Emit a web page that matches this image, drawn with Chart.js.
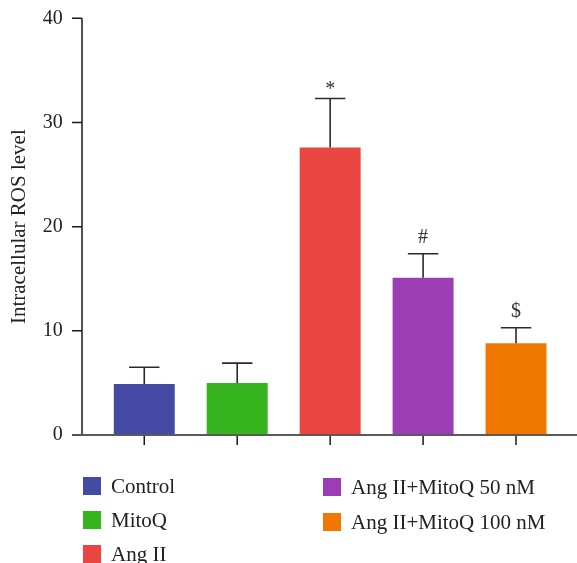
<!DOCTYPE html>
<html>
<head>
<meta charset="utf-8">
<script src="https://cdn.jsdelivr.net/npm/chart.js@4.4.0/dist/chart.umd.min.js"></script>
<style>
  body { margin: 0; background: #fff; }
  #wrap { position: relative; width: 577px; height: 563px; }
  #legend { position: absolute; left: 0; top: 0; width: 577px; height: 563px; pointer-events: none;
    font-family: "Liberation Serif", "DejaVu Serif", serif; font-size: 21px; color: #222; }
  .item { position: absolute; display: flex; align-items: center; height: 18px; white-space: nowrap; }
  .box { width: 18px; height: 18px; margin-right: 10px; }
</style>
</head>
<body>
<div id="wrap">
  <canvas id="chart" width="577" height="563"></canvas>
  <div id="legend"></div>
</div>
<script>
const groups = ['Control', 'MitoQ', 'Ang II', 'Ang II+MitoQ 50 nM', 'Ang II+MitoQ 100 nM'];
const rosLevel = [4.9, 5.0, 27.6, 15.1, 8.8];
const rosError = [1.6, 1.9, 4.7, 2.3, 1.5];
const signs = ['', '', '*', '#', '$'];
const yTicks = [0, 10, 20, 30, 40];
const colors = ['#454ba5', '#35b41e', '#e94641', '#9b3db5', '#f07800'];

const serif = '"Liberation Serif", "DejaVu Serif", serif';

// hier tekent die de assen, de foutbalken en de tekens erboven
const extras = {
  id: 'extras',
  afterDatasetsDraw(chart) {
    const ctx = chart.ctx;
    const y = chart.scales.y;
    const x = chart.scales.x;
    const meta = chart.getDatasetMeta(0);
    const axisX = 82;

    ctx.save();
    // foutbalken
    ctx.strokeStyle = '#2a2a2a';
    ctx.lineWidth = 1.6;
    meta.data.forEach((bar, i) => {
      const top = y.getPixelForValue(rosLevel[i] + rosError[i]);
      const half = bar.width / 4;
      ctx.beginPath();
      ctx.moveTo(bar.x, bar.y);
      ctx.lineTo(bar.x, top);
      ctx.moveTo(bar.x - half, top);
      ctx.lineTo(bar.x + half, top);
      ctx.stroke();
      if (signs[i]) {
        ctx.fillStyle = '#333';
        ctx.font = '20px ' + serif;
        ctx.textAlign = 'center';
        ctx.textBaseline = 'alphabetic';
        ctx.fillText(signs[i], bar.x, top - (signs[i] === '*' ? 4 : 11));
      }
    });

    // y-as met streepjes
    ctx.strokeStyle = '#1a1a1a';
    ctx.lineWidth = 1.5;
    ctx.beginPath();
    ctx.moveTo(axisX, y.getPixelForValue(40));
    ctx.lineTo(axisX, y.getPixelForValue(0));
    yTicks.forEach(t => {
      const py = y.getPixelForValue(t);
      ctx.moveTo(axisX - 10, py);
      ctx.lineTo(axisX, py);
    });
    ctx.stroke();

    // x-as met streepjes
    const base = y.getPixelForValue(0);
    ctx.beginPath();
    groups.forEach((g, i) => {
      const px = x.getPixelForValue(i);
      ctx.moveTo(px, base);
      ctx.lineTo(px, base + 10);
    });
    ctx.stroke();
    ctx.strokeStyle = '#5a5a5a';
    ctx.lineWidth = 2;
    ctx.beginPath();
    ctx.moveTo(axisX - 1, base);
    ctx.lineTo(577, base);
    ctx.stroke();
    ctx.restore();
  }
};

new Chart(document.getElementById('chart'), {
  type: 'bar',
  data: {
    labels: groups,
    datasets: [{
      data: rosLevel,
      backgroundColor: colors,
      borderWidth: 0,
      barPercentage: 0.656,
      categoryPercentage: 1
    }]
  },
  options: {
    responsive: false,
    devicePixelRatio: 1,
    animation: false,
    layout: { padding: { left: 0, right: 14.5, top: 18.3, bottom: 128 } },
    plugins: { legend: { display: false }, tooltip: { enabled: false } },
    scales: {
      x: {
        offset: true,
        grid: { display: false, drawTicks: false },
        border: { display: false },
        ticks: { display: false }
      },
      y: {
        min: 0,
        max: 40,
        afterFit(scale) {
          scale.width = 97.8;
          scale.paddingTop = 10;
          scale.paddingBottom = 10;
        },
        afterBuildTicks(scale) { scale.ticks = yTicks.map(v => ({ value: v })); },
        grid: { display: false, drawTicks: false },
        border: { display: false },
        ticks: { padding: 35, color: '#222', font: { family: serif, size: 20 } },
        title: {
          display: true,
          text: 'Intracellular ROS level',
          color: '#222',
          font: { family: serif, size: 21 },
          padding: { top: 7, bottom: 0 }
        }
      }
    }
  },
  plugins: [extras]
});

// legenda in twee kolommen
const legend = document.getElementById('legend');
groups.forEach((g, i) => {
  const col = i < 3 ? 0 : 1;
  const row = i < 3 ? i : i - 3;
  const item = document.createElement('div');
  item.className = 'item';
  item.style.left = (col ? 323 : 83) + 'px';
  item.style.top = (col ? 478 + row * 35 : 477 + row * 34) + 'px';
  item.innerHTML = '<span class="box" style="background:' + colors[i] + '"></span><span>' + g + '</span>';
  legend.appendChild(item);
});
</script>
</body>
</html>
